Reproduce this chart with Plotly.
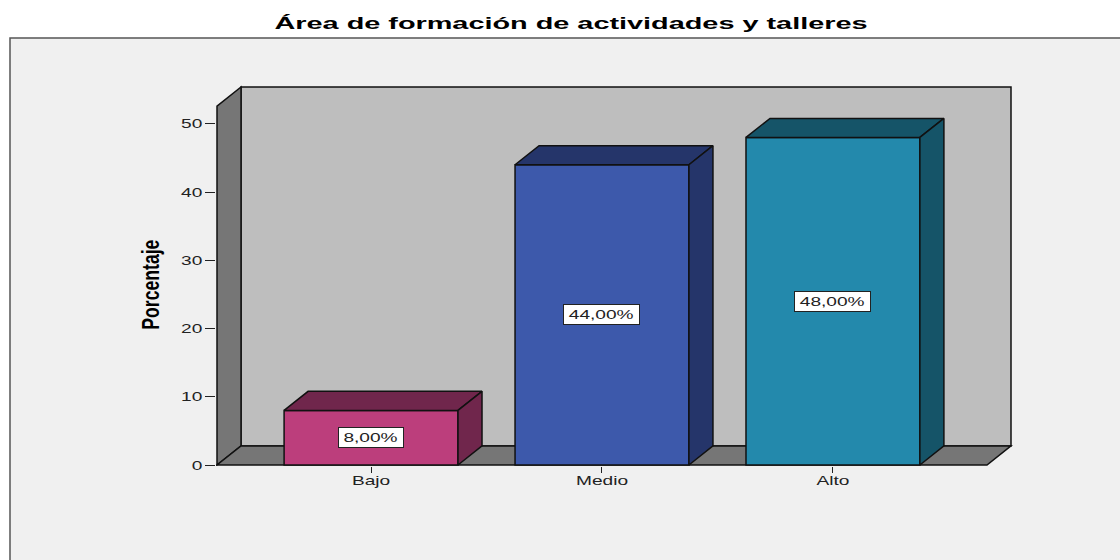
import plotly.graph_objects as go

title = "Área de formación de actividades y talleres"
y_title = "Porcentaje"
categories = ["Bajo", "Medio", "Alto"]
values = [8, 44, 48]
labels = ["8,00%", "44,00%", "48,00%"]
front_colors = ["#BC3E7C", "#3D59AB", "#2389AC"]
dark_colors = ["#70264C", "#25356A", "#155468"]
y_ticks = [0, 10, 20, 30, 40, 50]

positions = list(range(len(categories)))
BAR_W = 0.753
DX, DY = 0.104, 2.79
X0, X1 = -0.667, 2.667
YTOP = 52.6
LINE = "#111111"
TEXT = "#222222"
FONT = "Liberation Sans"


def path(points):
    return "M " + " L ".join(f"{x},{y}" for x, y in points) + " Z"


fig = go.Figure()

# bar front faces
fig.add_trace(go.Bar(
    x=positions, y=values, width=BAR_W,
    marker=dict(color=front_colors, line=dict(color=LINE, width=1.5)),
    hoverinfo="skip", showlegend=False,
))

# bar tops and sides, derived from the values
for p, v, c in zip(positions, values, dark_colors):
    l, r = p - BAR_W / 2, p + BAR_W / 2
    fig.add_trace(go.Scatter(
        x=[l, l + DX, r + DX, r, l], y=[v, v + DY, v + DY, v, v],
        mode="lines", fill="toself", fillcolor=c,
        line=dict(color=LINE, width=1.5), hoverinfo="skip", showlegend=False))
    fig.add_trace(go.Scatter(
        x=[r, r + DX, r + DX, r, r], y=[v, v + DY, DY, 0, v],
        mode="lines", fill="toself", fillcolor=c,
        line=dict(color=LINE, width=1.5), hoverinfo="skip", showlegend=False))

wall = dict(type="path", xref="x", yref="y", layer="below",
            line=dict(color=LINE, width=1.5))
shapes = [
    dict(type="rect", xref="paper", yref="paper", layer="below",
         x0=-206 / 797, x1=1.2, y0=-0.3, y1=428 / 381,
         fillcolor="#F0F0F0", line=dict(color="#555555", width=1.5)),
    dict(wall, fillcolor="#BEBEBE",
         path=path([(X0 + DX, DY), (X1 + DX, DY), (X1 + DX, YTOP + DY), (X0 + DX, YTOP + DY)])),
    dict(wall, fillcolor="#767676",
         path=path([(X0, 0), (X0 + DX, DY), (X0 + DX, YTOP + DY), (X0, YTOP)])),
    dict(wall, fillcolor="#767676",
         path=path([(X0, 0), (X1, 0), (X1 + DX, DY), (X0 + DX, DY)])),
]

annotations = [
    dict(x=p, y=v / 2, text=t, showarrow=False, bgcolor="#FFFFFF",
         bordercolor=TEXT, borderwidth=1, borderpad=1, align="center",
         width=5 + 11.3 * len(t), height=17,
         font=dict(family=FONT, size=13, color=TEXT))
    for p, v, t in zip(positions, values, labels)
]
annotations.append(dict(
    xref="paper", yref="paper", x=-66 / 797, y=181 / 381,
    xanchor="center", yanchor="middle",
    text=y_title, textangle=-90, showarrow=False,
    font=dict(family=FONT, size=24, weight=700, color="#000000")))

fig.update_layout(
    width=1120, height=560, autosize=False,
    margin=dict(l=216, r=107, t=85, b=94),
    paper_bgcolor="#FFFFFF", plot_bgcolor="rgba(0,0,0,0)",
    showlegend=False, shapes=shapes, annotations=annotations,
    title=dict(text=title, x=571 / 1120, xanchor="center",
               y=1 - 23 / 560, yanchor="middle",
               font=dict(family=FONT, size=16, weight=700, color="#000000")),
    xaxis=dict(range=[X0 - 1 / 231, X1 + DX + 2 / 231], tickmode="array", tickvals=positions,
               ticktext=categories, ticks="outside", ticklen=6, tickwidth=1,
               tickcolor=TEXT, showgrid=False, zeroline=False, showline=False,
               ticklabelstandoff=-4,
               tickfont=dict(family=FONT, size=13, color=TEXT)),
    yaxis=dict(range=[-1 / 6.82, YTOP + DY + 2 / 6.82], tickmode="array", tickvals=y_ticks,
               ticks="outside", ticklen=10, tickwidth=1.2, tickcolor=TEXT,
               showgrid=False, zeroline=False, showline=False,
               tickfont=dict(family=FONT, size=13, color=TEXT)),
)

# The reference's text is horizontally stretched; reproduce it on the real SVG text.
stretch = """
function fit(t, len) {
  t.setAttribute('lengthAdjust', 'spacingAndGlyphs');
  t.setAttribute('textLength', len);
}
document.querySelectorAll('.gtitle').forEach(t => fit(t, 593));
document.querySelectorAll('.xtick text, .ytick text').forEach(t => fit(t, t.getComputedTextLength() * 1.47));
document.querySelectorAll('.annotation-text').forEach(t => {
  if (t.textContent === 'Porcentaje') fit(t, 90);
  else fit(t, t.getComputedTextLength() * 1.47);
});
document.body.style.margin = '0';
"""
fig.write_html("out.html", post_script=stretch, config=dict(displayModeBar=False))
